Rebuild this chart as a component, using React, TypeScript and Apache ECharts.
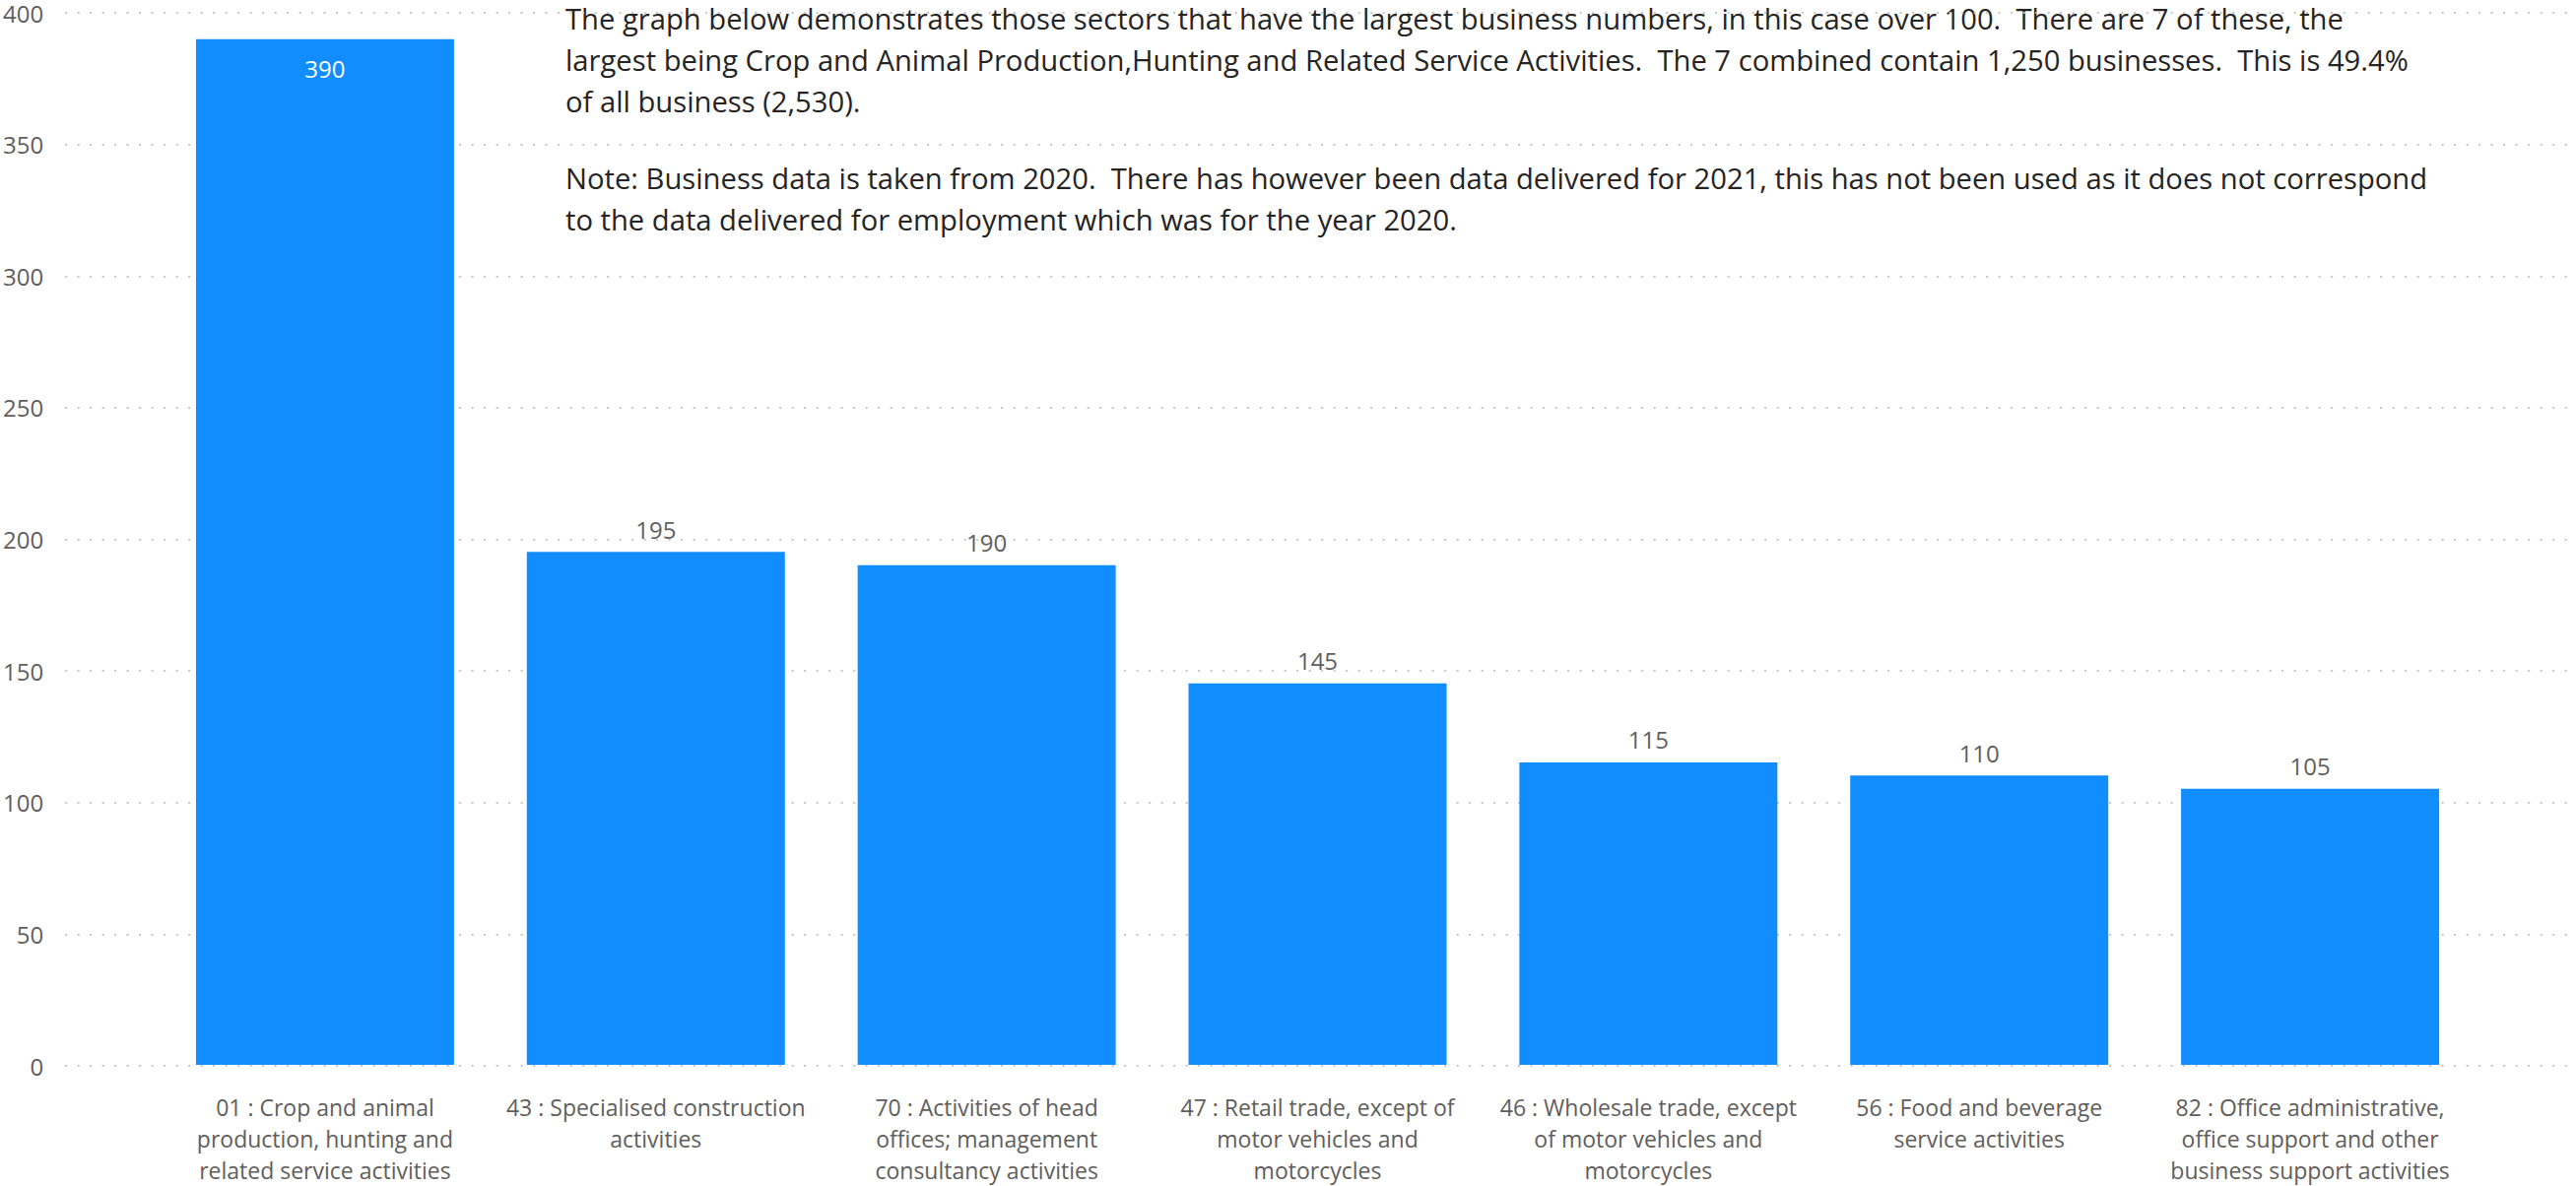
import React, { useEffect, useRef } from "react";
import * as echarts from "echarts";

const categories: string[] = [
  "01 : Crop and animal\nproduction, hunting and\nrelated service activities",
  "43 : Specialised construction\nactivities",
  "70 : Activities of head\noffices; management\nconsultancy activities",
  "47 : Retail trade, except of\nmotor vehicles and\nmotorcycles",
  "46 : Wholesale trade, except\nof motor vehicles and\nmotorcycles",
  "56 : Food and beverage\nservice activities",
  "82 : Office administrative,\noffice support and other\nbusiness support activities",
];

const businessCounts: number[] = [390, 195, 190, 145, 115, 110, 105];

const yTicks = { min: 0, max: 400, interval: 50 };

const paragraph1: string[] = [
  "The graph below demonstrates those sectors that have the largest business numbers, in this case over 100.  There are 7 of these, the",
  "largest being Crop and Animal Production,Hunting and Related Service Activities.  The 7 combined contain 1,250 businesses.  This is 49.4%",
  "of all business (2,530).",
];
const paragraph2: string[] = [
  "Note: Business data is taken from 2020.  There has however been data delivered for 2021, this has not been used as it does not correspond",
  "to the data delivered for employment which was for the year 2020.",
];

const FONT = "'Open Sans', 'Noto Sans', sans-serif";
const GRAY = "#605E5C";
const BAR = "#118DFF";

export default function App() {
  const ref = useRef<HTMLDivElement>(null);
  useEffect(() => {
    if (!ref.current) return;
    const chart = echarts.init(ref.current, null, { renderer: "svg" });
    const option: any = {
      animation: false,
      textStyle: { fontFamily: FONT },
      grid: [
        { left: 65, right: 0, top: 13, bottom: 122 },
        { left: 162, right: 102, top: 13, bottom: 122 },
      ],
      xAxis: [
        { type: "value", gridIndex: 0, show: false, min: 0, max: 1 },
        {
          type: "category",
          gridIndex: 1,
          data: categories,
          axisLine: { show: false },
          axisTick: { show: false },
          axisLabel: {
            interval: 0,
            color: GRAY,
            fontSize: 23,
            lineHeight: 32,
            margin: 27,
            fontFamily: FONT,
            align: "center",
          },
        },
      ],
      yAxis: [
        {
          type: "value",
          gridIndex: 0,
          min: yTicks.min,
          max: yTicks.max,
          interval: yTicks.interval,
          axisLine: { show: false },
          axisTick: { show: false },
          axisLabel: {
            color: GRAY,
            fontSize: 24,
            lineHeight: 20,
            padding: [4, 0, 0, 0],
            margin: 22,
            align: "right",
            fontFamily: FONT,
          },
          splitLine: {
            show: true,
            lineStyle: { color: "#C8C6C4", width: 2, type: [2, 10.5] },
          },
        },
        {
          type: "value",
          gridIndex: 1,
          min: yTicks.min,
          max: yTicks.max,
          interval: yTicks.interval,
          show: false,
          splitLine: { show: false },
        },
      ],
      series: [
        {
          type: "bar",
          xAxisIndex: 1,
          yAxisIndex: 1,
          barCategoryGap: "22%",
          itemStyle: { color: BAR },
          label: {
            show: true,
            position: "top",
            distance: 11,
            color: GRAY,
            fontSize: 24,
            fontFamily: FONT,
          },
          data: businessCounts.map((v) =>
            v > 370
              ? {
                  value: v,
                  label: { position: "insideTop", color: "#FFFFFF", distance: 18 },
                }
              : v
          ),
        },
      ],
      graphic: [
        {
          type: "text",
          left: 574,
          top: -2,
          style: {
            text: paragraph1.join("\n"),
            font: `29.2px ${FONT}`,
            lineHeight: 42,
            fill: "#252423",
          },
        },
        {
          type: "text",
          left: 574,
          top: 160,
          style: {
            text: paragraph2.join("\n"),
            font: `29.2px ${FONT}`,
            lineHeight: 42,
            fill: "#252423",
          },
        },
      ],
    };
    chart.setOption(option);
    return () => chart.dispose();
  }, []);
  return (
    <div
      ref={ref}
      style={{ position: "fixed", left: 0, top: 0, width: 2615, height: 1204, background: "#fff" }}
    />
  );
}
